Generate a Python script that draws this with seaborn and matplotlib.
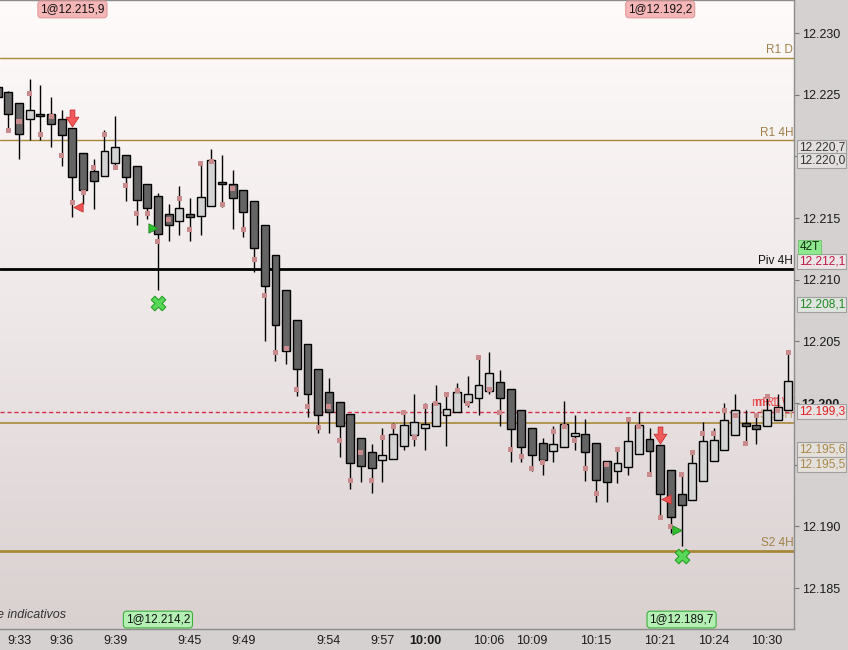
import numpy as np
import pandas as pd
import matplotlib
matplotlib.use("Agg")
import matplotlib.pyplot as plt
import matplotlib.transforms as mtransforms
from matplotlib.path import Path
from matplotlib.colors import LinearSegmentedColormap
import seaborn as sns

# ---------------- data (42-tick candles) ----------------
opens = [12225.6, 12225.2, 12224.3, 12223.0, 12223.4, 12223.4, 12223.0, 12222.3, 12220.3, 12218.8,
         12218.4, 12219.5, 12220.1, 12219.2, 12217.8, 12216.8, 12215.3, 12214.8, 12215.3, 12215.2,
         12216.0, 12217.9, 12217.8, 12217.3, 12216.4, 12214.4, 12212.0, 12209.2, 12206.7, 12204.8,
         12202.8, 12200.9, 12200.1, 12199.1, 12197.2, 12196.0, 12195.4, 12195.5, 12196.5, 12197.4,
         12198.0, 12198.1, 12199.0, 12199.3, 12200.1, 12200.4, 12201.0, 12201.7, 12201.1, 12199.4,
         12198.0, 12196.8, 12196.1, 12196.4, 12197.3, 12197.5, 12196.8, 12195.3, 12194.5, 12194.8,
         12195.9, 12197.1, 12196.6, 12194.6, 12192.6, 12192.1, 12193.7, 12195.3, 12196.2, 12197.4,
         12198.4, 12198.2, 12198.1, 12198.6, 12199.4]
highs = [12225.8, 12225.3, 12224.3, 12226.3, 12225.8, 12224.8, 12223.8, 12222.3, 12220.3, 12219.8,
         12222.1, 12223.3, 12220.1, 12219.2, 12217.8, 12217.0, 12216.1, 12217.6, 12216.6, 12219.6,
         12220.6, 12220.1, 12218.9, 12217.3, 12216.4, 12214.4, 12212.0, 12209.2, 12206.7, 12204.8,
         12202.8, 12202.0, 12200.1, 12199.1, 12197.2, 12196.7, 12198.0, 12198.4, 12199.4, 12200.7,
         12200.0, 12201.5, 12200.7, 12201.6, 12202.2, 12203.7, 12204.1, 12202.7, 12201.1, 12199.4,
         12198.0, 12197.2, 12198.1, 12200.2, 12199.0, 12198.7, 12196.8, 12195.3, 12196.2, 12198.7,
         12199.3, 12198.0, 12196.6, 12194.6, 12194.2, 12196.0, 12198.5, 12198.0, 12200.0, 12200.7,
         12199.4, 12199.0, 12200.5, 12200.7, 12204.1]
lows = [12224.6, 12222.1, 12219.8, 12221.3, 12221.3, 12220.8, 12219.2, 12215.1, 12216.1, 12215.7,
        12218.4, 12219.1, 12216.4, 12214.4, 12214.9, 12209.2, 12213.1, 12213.6, 12213.1, 12213.6,
        12216.0, 12215.9, 12214.1, 12213.5, 12210.6, 12205.0, 12203.4, 12203.2, 12200.6, 12198.9,
        12197.6, 12197.6, 12195.6, 12193.0, 12193.6, 12192.7, 12193.6, 12195.5, 12196.2, 12196.5,
        12196.2, 12198.1, 12196.5, 12199.3, 12199.7, 12199.0, 12200.7, 12198.1, 12195.2, 12195.2,
        12194.5, 12194.2, 12195.2, 12196.4, 12196.2, 12193.7, 12192.0, 12192.0, 12193.5, 12194.2,
        12195.9, 12194.2, 12190.7, 12189.5, 12188.4, 12192.1, 12193.7, 12195.3, 12196.2, 12197.4,
        12196.7, 12196.7, 12198.1, 12198.6, 12199.4]
closes = [12224.8, 12223.4, 12221.8, 12223.8, 12223.3, 12222.6, 12221.7, 12218.3, 12217.3, 12218.0,
          12220.4, 12220.8, 12218.3, 12216.5, 12215.8, 12213.7, 12214.4, 12215.8, 12215.1, 12216.7,
          12219.7, 12217.8, 12216.6, 12215.5, 12212.6, 12209.5, 12206.3, 12204.2, 12202.8, 12200.7,
          12199.0, 12199.3, 12198.1, 12195.1, 12194.9, 12194.7, 12195.8, 12197.5, 12198.2, 12198.5,
          12198.3, 12200.0, 12199.5, 12200.9, 12200.7, 12201.5, 12202.4, 12200.4, 12197.9, 12196.4,
          12195.8, 12195.4, 12196.7, 12198.3, 12197.6, 12196.0, 12193.8, 12193.6, 12195.1, 12196.9,
          12198.2, 12196.1, 12192.6, 12190.8, 12191.7, 12195.1, 12196.9, 12197.0, 12198.6, 12199.4,
          12198.1, 12197.9, 12199.4, 12199.7, 12201.8]
dots = [np.nan, 12222.1, 12222.8, 12225.1, 12221.8, 12223.2, 12220.1, 12216.3, 12217.1, 12219.1,
        12221.8, 12219.1, 12217.6, 12215.4, 12215.4, 12213.1, 12214.9, 12216.6, 12214.1, 12219.4,
        12219.6, 12216.1, 12217.4, 12214.1, 12211.6, 12208.7, 12204.1, 12204.4, 12201.1, 12199.7,
        12198.0, 12199.7, 12197.0, 12193.7, 12196.0, 12193.7, 12197.2, 12198.1, 12199.2, 12197.2,
        12199.7, 12200.0, 12200.7, 12201.0, 12200.0, 12203.7, 12201.1, 12199.2, 12196.2, 12195.7,
        12194.7, 12195.2, 12197.7, 12198.1, 12197.0, 12194.7, 12192.7, 12195.0, 12196.2, 12198.7,
        12198.1, 12194.2, 12190.7, 12190.0, 12194.2, 12196.0, 12197.5, 12197.5, 12199.4, 12199.0,
        12196.7, 12199.0, 12200.5, 12199.4, 12204.1]

time_tick_bars = [2, 6, 11, 18, 23, 31, 36, 40, 46, 50, 56, 62, 67, 72]
time_tick_labels = ["9:33", "9:36", "9:39", "9:45", "9:49", "9:54", "9:57", "10:00",
                    "10:06", "10:09", "10:15", "10:21", "10:24", "10:30"]

price_ticks = [12185, 12190, 12195, 12200, 12205, 12210, 12215, 12220, 12225, 12230]
hidden_price_labels = [12195, 12220]   # covered by value boxes in the reference

level_names = ["R1 D", "R1 4H", "Piv 4H", "S1 4H", "S2 4H"]
level_values = [12228.0, 12221.3, 12210.9, 12198.4, 12188.0]
dashed_level = 12199.3

sell_bars = [7, 62]
sell_prices = [12215.9, 12192.2]
buy_bars = [15, 64]
buy_prices = [12214.2, 12189.7]
stop_bars = [15, 64]
stop_prices = [12208.1, 12187.6]

axis_label_texts = ["12.220,7", "12.220,0", "12.212,1", "12.208,1", "12.199,3", "12.195,6", "12.195,5"]
axis_label_pos = [12220.7, 12219.7, 12211.5, 12208.0, 12199.3, 12196.2, 12195.0]
bar_size_label = "42T"

# ---------------- figure ----------------
sns.set_style("white")
plt.rcParams['font.family'] = ['Liberation Sans', 'DejaVu Sans']

W, H = 848, 650
fig = plt.figure(figsize=(W / 100, H / 100), dpi=100, facecolor="#d6d1d1")
ax = fig.add_axes([0, 21 / H, 794 / W, 629 / H])

x0, x1 = 0.222, 74.52
y0, y1 = 12181.68, 12232.68
ax.set_xlim(x0, x1)
ax.set_ylim(y0, y1)

# gradient background
cmap = LinearSegmentedColormap.from_list("bg", ["#fffbfb", "#efe8e8", "#d9d0d0"])
ax.imshow(np.linspace(0, 1, 256).reshape(-1, 1), cmap=cmap, aspect="auto",
          extent=(x0, x1, y0, y1), origin="upper", zorder=0, interpolation="bilinear")

df = pd.DataFrame({"bar": np.arange(len(opens)), "open": opens, "high": highs,
                   "low": lows, "close": closes, "dot": dots})

rt = mtransforms.blended_transform_factory(ax.transAxes, ax.transData)

# levels
lvl_colors = ["#a88838", "#a88838", "#000000", "#a88838", "#a88838"]
lvl_widths = [1.0, 1.0, 2.0, 1.2, 2.0]
lvl_text_colors = ["#a08048", "#a08048", "#111111", "#b8a070", "#a08048"]
for name, val, c, lw, tc in zip(level_names, level_values, lvl_colors, lvl_widths, lvl_text_colors):
    ax.axhline(val, color=c, lw=lw, zorder=1)
    ax.text(0.999, val + 0.15, name, transform=rt,
            ha="right", va="bottom", fontsize=8.5, color=tc, zorder=1.5)
ax.axhline(dashed_level, color="#d03048", lw=1, ls=(0, (3, 2)), zorder=2)
for t in ["mR1 W", "mR1 D"]:
    ax.text(1.0, dashed_level + 0.2, t, transform=rt,
            ha="right", va="bottom", fontsize=9, color="#e83030", alpha=0.8, zorder=2)

# candles
up = df["close"] >= df["open"]
body_bottom = np.minimum(df["open"], df["close"])
body_h = np.maximum(np.abs(df["close"] - df["open"]), 0.14)
ax.vlines(df["bar"], df["low"], df["high"], color="black", lw=1, zorder=3)
ax.bar(df["bar"], body_h, bottom=body_bottom, width=0.74,
       color=np.where(up, "#d3d3d3", "#646464"), edgecolor="black", linewidth=1, zorder=4)

# indicator dots
sns.scatterplot(data=df, x="bar", y="dot", marker="s", s=13, color="#c88a8a",
                edgecolor="none", ax=ax, zorder=5, legend=False)

# sell arrows above the bar
arrow = Path([(-0.28, 1.0), (0.28, 1.0), (0.28, 0.15), (0.75, 0.15), (0.0, -1.0),
              (-0.75, 0.15), (-0.28, 0.15), (-0.28, 1.0)])
ax.scatter(sell_bars, [highs[b] + 0.85 for b in sell_bars], marker=arrow, s=150,
           color="#f05a5a", edgecolor="#c83030", linewidth=0.6, zorder=6)
# fills
sns.scatterplot(x=[b + 0.56 for b in sell_bars], y=sell_prices, marker="<", s=45,
                color="#f05050", edgecolor="#c03030", ax=ax, zorder=6, legend=False)
sns.scatterplot(x=[b - 0.47 for b in buy_bars], y=buy_prices, marker=">", s=45,
                color="#30c030", edgecolor="#208020", ax=ax, zorder=6, legend=False)
sns.scatterplot(x=stop_bars, y=stop_prices, marker="X", s=110,
                color="#58d858", edgecolor="#28a028", linewidth=0.8, ax=ax, zorder=6, legend=False)

# trade labels
bt = mtransforms.blended_transform_factory(ax.transData, ax.transAxes)
def eu(p):
    return f"1@{p:,.1f}".replace(",", "X").replace(".", ",").replace("X", ".")
for b, p in zip(sell_bars, sell_prices):
    ax.text(b, 0.985, eu(p), transform=bt, ha="center", va="center", fontsize=8.5, color="#111111", zorder=10,
            bbox=dict(boxstyle="round,pad=0.2,rounding_size=0.25", fc="#f4b6b6", ec="#e49a9a", lw=0.8))
for b, p in zip(buy_bars, buy_prices):
    ax.text(b, 0.015, eu(p), transform=bt, ha="center", va="center", fontsize=8.5, color="#111111", zorder=10,
            bbox=dict(boxstyle="round,pad=0.2,rounding_size=0.25", fc="#b4f0b4", ec="#40b040", lw=0.8))

ax.text(-0.004, 0.012, "e indicativos", transform=ax.transAxes, ha="left", va="bottom",
        fontsize=9, style="italic", color="#333333", zorder=9, clip_on=True)

# axes styling
ax.spines["left"].set_visible(False)
for s in ["right", "bottom", "top"]:
    ax.spines[s].set_color("#8c8c8c")
    ax.spines[s].set_linewidth(1)

ax.yaxis.tick_right()
ax.set_yticks(price_ticks)
ax.set_yticklabels(["" if v in hidden_price_labels else f"{v / 1000:.3f}" for v in price_ticks])
for lab in ax.get_yticklabels():
    if lab.get_text() == "12.200":
        lab.set_fontweight("bold")
ax.tick_params(axis="y", direction="out", length=3.5, width=0.8, color="#777777",
               labelsize=9, labelcolor="#1a1a1a", pad=2)
ax.set_xticks(time_tick_bars)
ax.set_xticklabels(time_tick_labels)
for lab in ax.get_xticklabels():
    if lab.get_text() == "10:00":
        lab.set_fontweight("bold")
ax.tick_params(axis="x", direction="out", length=3.5, width=0.8, color="#777777",
               labelsize=9, labelcolor="#1a1a1a", pad=1)
ax.set_xlabel("")
ax.set_ylabel("")
ax.grid(False)

# right-axis value boxes
box_text_colors = ["#333333", "#333333", "#c01848", "#208a20", "#e02020", "#a88848", "#a88848"]
box_fc = ["#e4e0e0", "#e4e0e0", "#ece4e6", "#e0e4e0", "#e8e2e2", "#e4e0dc", "#e4e0dc"]
for t, p, c, fc in zip(axis_label_texts, axis_label_pos, box_text_colors, box_fc):
    ax.text(1.006, p, t, transform=rt, ha="left", va="center", fontsize=8.6, color=c, zorder=10,
            clip_on=False, bbox=dict(boxstyle="square,pad=0.12", fc=fc, ec="#a0a0a0", lw=0.8))
ax.text(1.007, 12212.65, bar_size_label, transform=rt, ha="left", va="center", fontsize=8.5,
        color="#103010", zorder=10, clip_on=False,
        bbox=dict(boxstyle="square,pad=0.12", fc="#8ee88e", ec="#70c070", lw=0.6))

fig.savefig("out.png", dpi=100, facecolor=fig.get_facecolor())
